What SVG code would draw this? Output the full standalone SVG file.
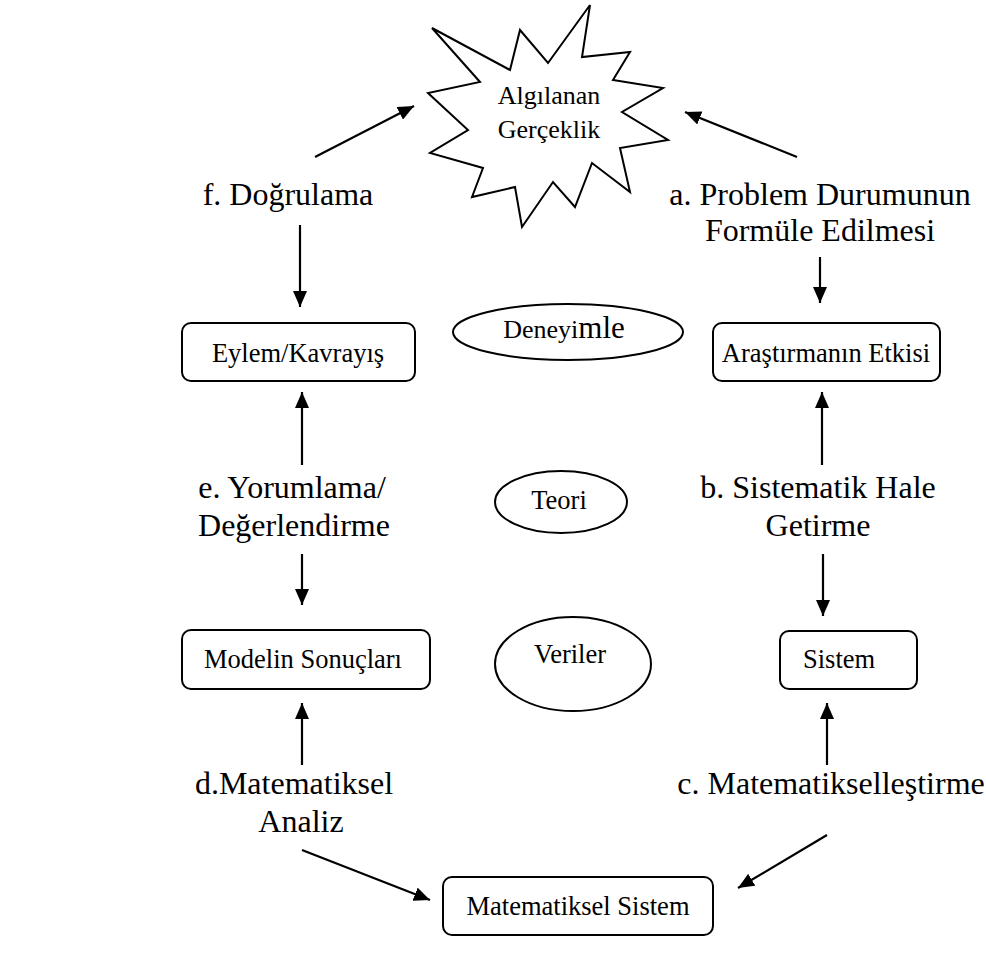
<svg xmlns="http://www.w3.org/2000/svg" width="986" height="972" viewBox="0 0 986 972">
<style>
text{font-family:"Liberation Serif","DejaVu Serif",serif;fill:#000}
.lbl{font-size:32px}
.box{font-size:26.5px}
.shape{fill:#fff;stroke:#000;stroke-width:2}
.conn{stroke:#000;stroke-width:2.2;fill:none}
</style>
<defs>
<marker id="ah" markerUnits="userSpaceOnUse" markerWidth="18" markerHeight="14" refX="16" refY="7" orient="auto">
<path d="M0,0 L16,7 L0,14 Z" fill="#000"/>
</marker>
</defs>
<rect width="986" height="972" fill="#fff"/>
<g id="star">
<polygon class="shape" points="432,28 510,70 520,30 548,63 590,5 582,57 630,52 613,80 663,88 622,112 668,140 620,148 630,192 592,163 575,207 553,182 522,227 515,187 472,197 483,168 430,153 468,130 428,93 480,82"/>
<text x="549" y="104" font-size="26" text-anchor="middle">Algılanan</text>
<text x="549" y="138" font-size="26" text-anchor="middle">Gerçeklik</text>
</g>
<g id="label-f"><text class="lbl" x="288" y="205" text-anchor="middle">f. Doğrulama</text></g>
<g id="label-a">
<text class="lbl" x="820" y="205" text-anchor="middle">a. Problem Durumunun</text>
<text class="lbl" x="820" y="241" text-anchor="middle">Formüle Edilmesi</text>
</g>
<g id="eylem">
<rect class="shape" x="182" y="323" width="233" height="58" rx="9"/>
<text class="box" x="298" y="362" text-anchor="middle">Eylem/Kavrayış</text>
</g>
<g id="deneyimle">
<ellipse class="shape" cx="568" cy="332" rx="115" ry="28"/>
<text x="564" y="338" text-anchor="middle" font-size="26">Deneyi<tspan font-size="31">mle</tspan></text>
</g>
<g id="arastirma">
<rect class="shape" x="713" y="323" width="227" height="58" rx="9"/>
<text class="box" x="826" y="362" text-anchor="middle">Araştırmanın Etkisi</text>
</g>
<g id="label-e">
<text class="lbl" x="292" y="498" text-anchor="middle">e. Yorumlama/</text>
<text class="lbl" x="294" y="536" text-anchor="middle">Değerlendirme</text>
</g>
<g id="teori">
<ellipse class="shape" cx="561" cy="502" rx="66" ry="31"/>
<text class="box" x="559" y="509" text-anchor="middle">Teori</text>
</g>
<g id="label-b">
<text class="lbl" x="818" y="498" text-anchor="middle">b. Sistematik Hale</text>
<text class="lbl" x="818" y="536" text-anchor="middle">Getirme</text>
</g>
<g id="modelin">
<rect class="shape" x="182" y="630" width="248" height="59" rx="9"/>
<text class="box" x="303" y="668" text-anchor="middle">Modelin Sonuçları</text>
</g>
<g id="veriler">
<ellipse class="shape" cx="573" cy="664" rx="78" ry="47"/>
<text class="box" x="570" y="663" text-anchor="middle">Veriler</text>
</g>
<g id="sistem">
<rect class="shape" x="780" y="631" width="137" height="58" rx="9"/>
<text class="box" x="803" y="668">Sistem</text>
</g>
<g id="label-d">
<text class="lbl" x="294" y="794" text-anchor="middle">d.Matematiksel</text>
<text class="lbl" x="301" y="832" text-anchor="middle">Analiz</text>
</g>
<g id="label-c">
<text class="lbl" x="831" y="794" text-anchor="middle">c. Matematikselleştirme</text>
</g>
<g id="matsis">
<rect class="shape" x="443" y="877" width="270" height="58" rx="9"/>
<text class="box" x="578" y="915" text-anchor="middle">Matematiksel Sistem</text>
</g>
<g id="connectors">
<line class="conn" x1="315" y1="157" x2="414" y2="106" marker-end="url(#ah)"/>
<line class="conn" x1="797" y1="157" x2="685" y2="112" marker-end="url(#ah)"/>
<line class="conn" x1="300" y1="225" x2="300" y2="307" marker-end="url(#ah)"/>
<line class="conn" x1="820" y1="257" x2="820" y2="303" marker-end="url(#ah)"/>
<line class="conn" x1="302" y1="465" x2="302" y2="392" marker-end="url(#ah)"/>
<line class="conn" x1="822" y1="465" x2="822" y2="392" marker-end="url(#ah)"/>
<line class="conn" x1="302" y1="554" x2="302" y2="605" marker-end="url(#ah)"/>
<line class="conn" x1="823" y1="554" x2="823" y2="616" marker-end="url(#ah)"/>
<line class="conn" x1="302" y1="765" x2="302" y2="703" marker-end="url(#ah)"/>
<line class="conn" x1="827" y1="765" x2="827" y2="703" marker-end="url(#ah)"/>
<line class="conn" x1="302" y1="850" x2="430" y2="900" marker-end="url(#ah)"/>
<line class="conn" x1="827" y1="835" x2="738" y2="888" marker-end="url(#ah)"/>
</g>
</svg>
